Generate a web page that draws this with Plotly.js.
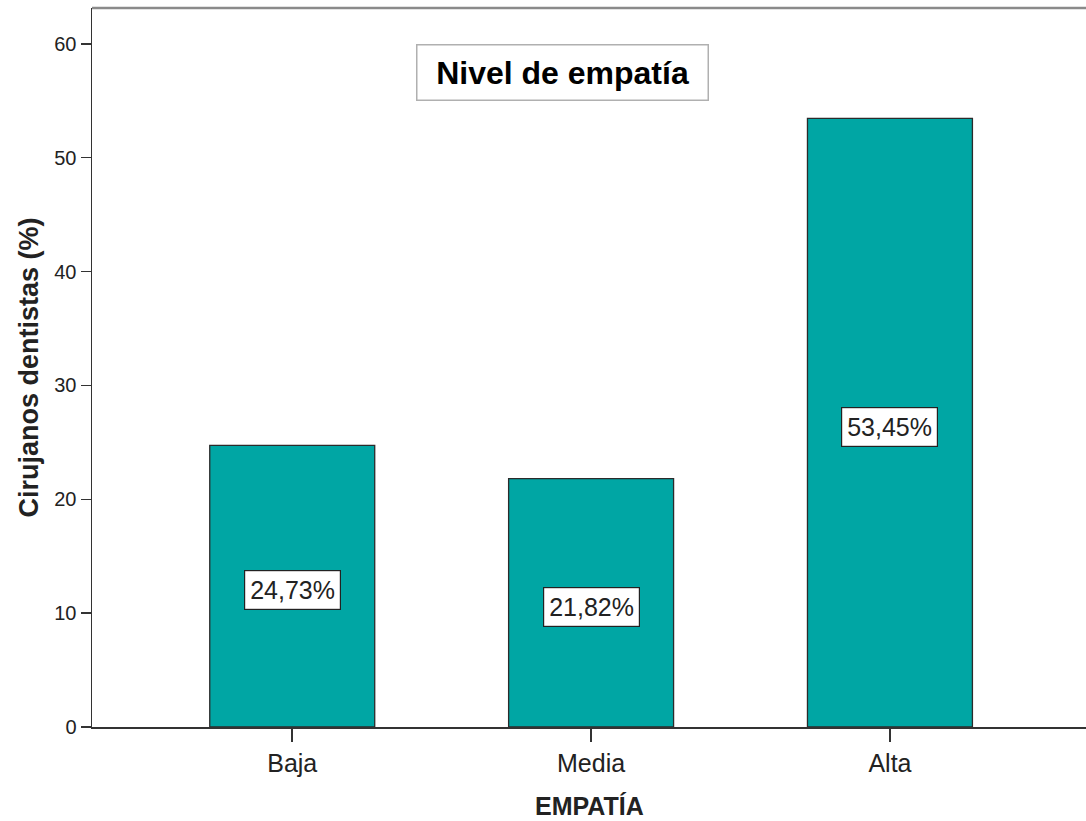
<!DOCTYPE html>
<html>
<head>
<meta charset="utf-8">
<script src="https://cdn.plot.ly/plotly-3.0.1.min.js"></script>
<style>
  html, body { margin: 0; padding: 0; background: #ffffff; }
  #chart { width: 1086px; height: 821px; }
</style>
</head>
<body>
<div id="chart"></div>
<script>
// Empathy level distribution among dental surgeons
const categories = ['Baja', 'Media', 'Alta'];
const percentages = [24.73, 21.82, 53.45];
const yTickValues = [0, 10, 20, 30, 40, 50, 60];

const FONT = 'Arial, "Liberation Sans", sans-serif';
const BAR_COLOR = '#00a6a4';
const INK = '#222222';

// Spanish-style percentage text, e.g. 24,73%
const pctText = v => v.toFixed(2).replace('.', ',') + '%';

const trace = {
  type: 'bar',
  x: categories,
  y: percentages,
  width: 0.552,
  marker: { color: BAR_COLOR, line: { color: '#2b2b2b', width: 1.3 } },
  hoverinfo: 'skip'
};

// Value boxes centred in each bar
const valueLabels = categories.map((c, i) => ({
  x: c,
  y: percentages[i] / 2,
  xref: 'x',
  yref: 'y',
  yshift: -4,
  text: pctText(percentages[i]),
  showarrow: false,
  font: { family: FONT, size: 25, color: INK },
  bgcolor: '#ffffff',
  bordercolor: '#222222',
  borderwidth: 1.2,
  borderpad: 5
}));

const layout = {
  width: 1086,
  height: 821,
  margin: { l: 92, r: 0, t: 8, b: 94 },
  paper_bgcolor: '#ffffff',
  plot_bgcolor: '#ffffff',
  showlegend: false,
  font: { family: FONT, color: INK },
  xaxis: {
    type: 'category',
    range: [-0.67, 2.656],
    showline: true,
    linecolor: '#333333',
    linewidth: 1.5,
    ticks: 'outside',
    ticklen: 13,
    tickwidth: 1.5,
    tickcolor: '#333333',
    tickfont: { family: FONT, size: 25, color: INK },
    showgrid: false,
    zeroline: false,
    fixedrange: true
  },
  yaxis: {
    range: [0, 63.15],
    tickvals: yTickValues,
    ticktext: yTickValues.map(String),
    showline: true,
    linecolor: '#333333',
    linewidth: 1.5,
    ticks: 'outside',
    ticklen: 10,
    tickwidth: 1.5,
    tickcolor: '#333333',
    tickfont: { family: FONT, size: 20, color: INK },
    showgrid: false,
    zeroline: false,
    fixedrange: true
  },
  shapes: [
    {
      type: 'line', xref: 'paper', yref: 'paper',
      x0: 0, x1: 1, y0: 1, y1: 1,
      line: { color: '#8a8a8a', width: 2.5 }
    }
  ],
  annotations: valueLabels.concat([
    {
      // chart heading inside a framed box
      x: 0.473, y: 0.9097, xref: 'paper', yref: 'paper',
      xanchor: 'center', yanchor: 'middle',
      text: '<b>Nivel de empatía</b>',
      showarrow: false,
      font: { family: FONT, size: 32, color: '#000000' },
      width: 288, height: 52,
      align: 'center', valign: 'middle',
      bgcolor: '#ffffff',
      bordercolor: '#b0b0b0',
      borderwidth: 1.5,
      borderpad: 1
    },
    {
      // x-axis title
      x: 0.5, y: 0, xref: 'paper', yref: 'paper',
      xanchor: 'center', yanchor: 'middle', yshift: -79,
      text: '<b>EMPATÍA</b>',
      showarrow: false,
      font: { family: FONT, size: 25, color: INK }
    },
    {
      // y-axis title
      x: 0, y: 0.5, xref: 'paper', yref: 'paper',
      xanchor: 'center', yanchor: 'middle', xshift: -64,
      textangle: -90,
      text: '<b>Cirujanos dentistas (%)</b>',
      showarrow: false,
      font: { family: FONT, size: 27, color: INK }
    }
  ])
};

Plotly.newPlot('chart', [trace], layout, { displayModeBar: false, staticPlot: true });
</script>
</body>
</html>
